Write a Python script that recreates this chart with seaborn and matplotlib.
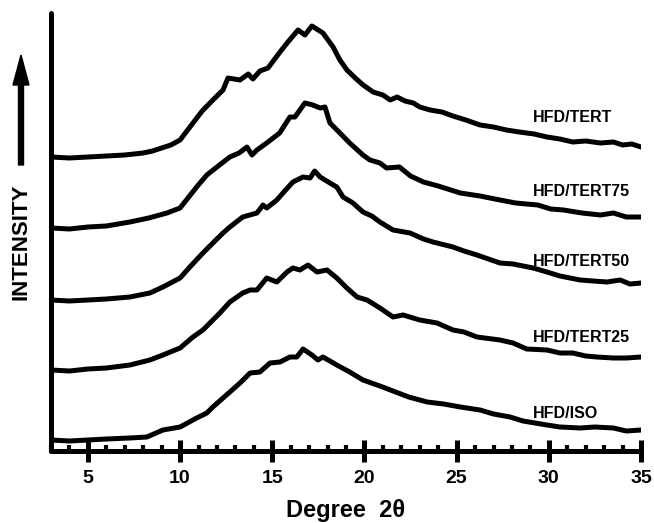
import matplotlib
matplotlib.use("Agg")
import matplotlib.pyplot as plt
from matplotlib.patches import FancyArrow
from matplotlib.transforms import IdentityTransform
from matplotlib.ticker import MultipleLocator
import seaborn as sns
import pandas as pd

# ---- data (degree 2theta, intensity in arbitrary units, stacked) ----
tert_x = [3, 4, 5, 6, 7, 8, 8.5, 9, 9.5, 10, 10.7, 11.2, 11.78, 12.33, 12.6, 13.25, 13.7, 13.95,
          14.33, 14.77, 15.42, 15.85, 16.4, 16.77, 17.15, 17.75, 18.3, 18.67, 19.05, 19.5, 19.93,
          20.47, 21.0, 21.4, 21.77, 22.2, 22.65, 23.0, 23.56, 24.2, 24.8, 25.5, 26.27, 27.0, 27.7,
          28.4, 29.2, 29.9, 30.6, 31.3, 32.0, 32.8, 33.5, 34.0, 34.5, 35.0]
tert_y = [294, 293, 294, 295, 296, 298, 300, 303, 306, 311, 328, 340, 351, 361, 373, 371, 377, 372,
          380, 383, 399, 409, 421, 416, 425, 418, 404, 391, 381, 373, 366,
          359, 356, 351, 354, 350, 348, 344, 341, 339, 335, 331, 326, 324, 321,
          319, 317, 314, 312, 309, 310, 308, 309, 306, 307, 304]

tert75_x = [3, 4, 5, 6, 7.28, 8.3, 9.29, 10, 10.9, 11.45, 12.0, 12.7, 13.2, 13.63, 13.9, 14.17,
            14.7, 15.4, 15.96, 16.23, 16.77, 17.2, 17.6, 17.86, 18.13, 18.67, 19.2, 19.92, 20.3,
            20.84, 21.2, 21.9, 22.5, 23.2, 24.0, 25.2, 26.27, 27.35, 28.2, 29.4, 30.1, 30.8, 31.8,
            32.8, 33.5, 34.2, 35]
tert75_y = [223, 222, 224, 225, 229, 233, 238, 243, 264, 276, 284, 294, 298, 304, 296, 301,
            308, 318, 334, 334, 348, 346, 343, 344, 328, 318, 308, 296, 291,
            288, 283, 284, 275, 269, 265, 258, 255, 251, 248, 246, 242, 241, 238,
            236, 238, 234, 234]

tert50_x = [3, 4, 5, 6, 7.28, 8.36, 9.07, 10, 10.53, 11.24, 11.78, 12.33, 12.7, 13.4, 14.17, 14.5,
            14.7, 15.25, 15.58, 16.12, 16.67, 17.05, 17.3, 17.6, 18.13, 18.5, 18.84, 19.38, 19.92,
            20.4, 20.84, 21.55, 22.47, 23.2, 23.72, 24.8, 25.4, 26.1, 27.35, 28.06, 29.15, 29.9,
            30.6, 31.7, 32.4, 33.16, 33.87, 34.4, 35]
tert50_y = [151, 150, 151, 152, 154, 158, 164, 173, 184, 198, 208, 218, 224, 234, 238, 246,
            243, 251, 258, 269, 274, 273, 280, 274, 268, 264, 254, 248, 239,
            235, 229, 221, 218, 212, 209, 204, 200, 196, 188, 187, 183, 179,
            175, 171, 170, 169, 171, 167, 168]

tert25_x = [3, 4, 5, 6, 7.28, 8.36, 9.07, 10, 10.7, 11.24, 11.78, 12.16, 12.7, 13.4, 13.8, 14.17,
            14.7, 15.25, 15.8, 16.12, 16.5, 16.94, 17.43, 17.97, 18.5, 19.05, 19.6, 20.14, 20.84,
            21.55, 22.1, 23.0, 23.94, 24.8, 25.4, 26.1, 27.35, 28.06, 28.8, 29.9, 30.6, 31.3,
            32.0, 32.6, 33.5, 34.2, 35]
tert25_y = [81, 80, 82, 83, 86, 91, 96, 103, 114, 121, 131, 138, 149, 158, 161, 161,
            173, 169, 179, 183, 181, 186, 179, 181, 173, 163, 154, 151, 143,
            134, 136, 131, 128, 121, 119, 114, 111, 108, 102, 101, 98, 98,
            95, 94, 93, 93, 94]

iso_x = [3, 4, 5, 6, 7.28, 8.2, 9.07, 10, 10.9, 11.45, 11.78, 12.33, 12.7, 13.25, 13.8, 14.33,
         14.88, 15.42, 15.96, 16.33, 16.67, 17.15, 17.48, 17.75, 18.5, 19.2, 19.92, 20.84, 21.55,
         22.4, 23.4, 24.3, 25.2, 26.27, 27.0, 27.9, 28.6, 29.9, 30.6, 31.7, 32.5, 33.5, 34.2, 35]
iso_y = [11, 10, 11, 12, 13, 14, 21, 24, 33, 38, 44, 53, 59, 68, 78, 79,
         88, 89, 94, 94, 102, 96, 91, 94, 86, 79, 71, 65, 60,
         54, 49, 47, 44, 41, 37, 34, 30, 26, 24, 23, 24, 23, 20, 21]

series_names = ["HFD/TERT", "HFD/TERT75", "HFD/TERT50", "HFD/TERT25", "HFD/ISO"]
series_x = [tert_x, tert75_x, tert50_x, tert25_x, iso_x]
series_y = [tert_y, tert75_y, tert50_y, tert25_y, iso_y]
label_x = 29.15
label_y = [334, 259, 189, 113, 38]
xticks = [5, 10, 15, 20, 25, 30, 35]

# ---- figure ----
sns.set_theme(style="white")
plt.rcParams['font.family'] = ['Liberation Sans', 'DejaVu Sans']
plt.rcParams['text.color'] = 'black'
plt.rcParams['axes.labelcolor'] = 'black'
plt.rcParams['xtick.color'] = 'black'
plt.rcParams['xtick.labelcolor'] = 'black'

W, H = 654, 523
fig = plt.figure(figsize=(W / 100, H / 100), dpi=100)
ax = fig.add_axes([51 / W, 1 - 451 / H, (641 - 51) / W, (451 - 13) / H])

frames = [pd.DataFrame({"deg": x, "inten": y, "sample": n})
          for n, x, y in zip(series_names, series_x, series_y)]
df = pd.concat(frames, ignore_index=True)
for n in series_names:
    sub = df[df["sample"] == n]
    sns.lineplot(data=sub, x="deg", y="inten", ax=ax, color="black", lw=3.6,
                 sort=False, estimator=None, legend=False, solid_joinstyle="round",
                 solid_capstyle="round")

for n, ly in zip(series_names, label_y):
    ax.text(label_x, ly, n, fontsize=11.5, fontweight="bold", ha="left", va="center",
            color="black")

ax.set_xlim(3, 35)
ax.set_ylim(0, 438)
ax.set_yticks([])
ax.set_xticks(xticks)
ax.set_xticklabels([str(t) for t in xticks], fontsize=14, fontweight="bold", color="black")
ax.xaxis.set_minor_locator(MultipleLocator(1))
ax.tick_params(axis="x", which="major", direction="inout", length=16, width=3.6,
               color="black", labelcolor="black", pad=6, bottom=True)
ax.tick_params(axis="x", which="minor", direction="in", length=4, width=3.0,
               color="black", bottom=True)
for s in ["top", "right"]:
    ax.spines[s].set_visible(False)
for s in ["left", "bottom"]:
    ax.spines[s].set_linewidth(3.6)
    ax.spines[s].set_color("black")
    ax.spines[s].set_capstyle("round")
ax.set_xlabel("Degree  2θ", fontsize=17, fontweight="bold", labelpad=8, color="black")
ax.set_ylabel("")

fig.text(21 / W, 1 - 242 / H, "INTENSITY", rotation=90, fontsize=16, fontweight="bold",
         ha="center", va="center", color="black")
arrow = FancyArrow(21, H - 165, 0, 165 - 55, width=5, head_width=16, head_length=30,
                   length_includes_head=True, color="black", transform=IdentityTransform())
fig.add_artist(arrow)

fig.savefig("out.png", dpi=100)
